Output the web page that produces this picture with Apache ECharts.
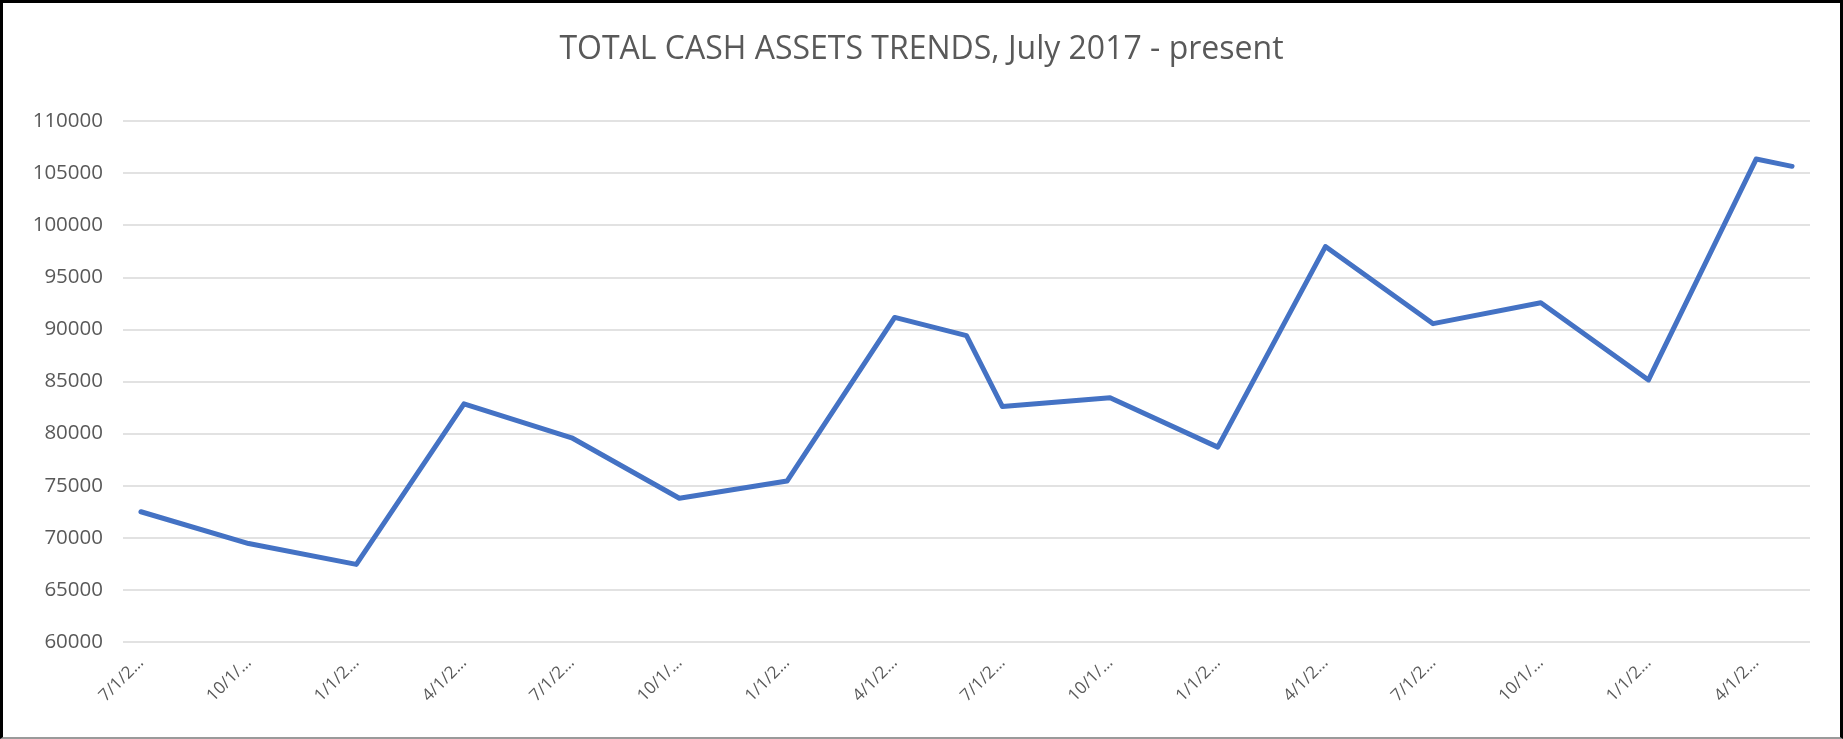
<!DOCTYPE html>
<html>
<head>
<meta charset="utf-8">
<script src="https://cdn.jsdelivr.net/npm/echarts@6/dist/echarts.min.js"></script>
<style>
  html, body { margin: 0; padding: 0; background: #fff; }
  #chart {
    width: 1843px; height: 739px; box-sizing: border-box;
    border-top: 3px solid #000; border-left: 3px solid #000;
    border-right: 3px solid #000; border-bottom: 2px solid #9a9a9a;
  }
</style>
</head>
<body>
<div id="chart"></div>
<script>
// quarterly balance reads, plus a couple of extra month-end reads
const dates = [
  '7/1/2017', '10/1/2017', '1/1/2018', '4/1/2018', '7/1/2018', '10/1/2018',
  '1/1/2019', '4/1/2019', '6/1/2019', '7/1/2019', '10/1/2019', '1/1/2020',
  '4/1/2020', '7/1/2020', '10/1/2020', '1/1/2021', '4/1/2021', '5/1/2021'
];
const cash = [
  72500, 69450, 67450, 82850, 79600, 73800,
  75450, 91150, 89400, 82600, 83450, 78700,
  97950, 90550, 92550, 85150, 106350, 105650
];
const yTicks = [60000, 110000, 5000]; // min, max, step

// the axis runs month by month, like Excel's date axis with base unit = months
const months = [];
{
  const [m0, , y0] = dates[0].split('/').map(Number);
  const [m1, , y1] = dates[dates.length - 1].split('/').map(Number);
  let m = m0, y = y0;
  while (y < y1 || (y === y1 && m <= m1)) {
    months.push(m + '/1/' + y);
    m++;
    if (m > 12) { m = 1; y++; }
  }
}

const chart = echarts.init(document.getElementById('chart'));
const font = '"Open Sans", "Noto Sans", sans-serif';

chart.setOption({
  animation: false,
  title: {
    text: 'TOTAL CASH ASSETS TRENDS, July 2017 - present',
    left: 'center',
    top: 26,
    textStyle: { fontFamily: font, fontSize: 32, fontWeight: 'normal', color: '#595959' }
  },
  grid: { left: 120, right: 30, top: 118, bottom: 95 },
  xAxis: {
    type: 'category',
    data: months,
    boundaryGap: true,
    axisLine: { show: false },
    axisTick: { show: false },
    axisLabel: {
      interval: 2,
      rotate: 45,
      margin: 18,
      fontFamily: font,
      fontSize: 17,
      color: '#595959',
      formatter: v => v.slice(0, 5) + '…'
    },
    splitLine: { show: false }
  },
  yAxis: {
    type: 'value',
    min: yTicks[0],
    max: yTicks[1],
    interval: yTicks[2],
    axisLine: { show: false },
    axisTick: { show: false },
    axisLabel: {
      margin: 20, fontFamily: font, fontSize: 20.5, color: '#595959',
      formatter: v => String(v)
    },
    splitLine: { lineStyle: { color: '#d9d9d9', width: 1.5 } }
  },
  series: [{
    type: 'line',
    data: dates.map((d, i) => [d, cash[i]]),
    showSymbol: false,
    lineStyle: { color: '#4472c4', width: 5, cap: 'round', join: 'round' }
  }]
});
</script>
</body>
</html>
